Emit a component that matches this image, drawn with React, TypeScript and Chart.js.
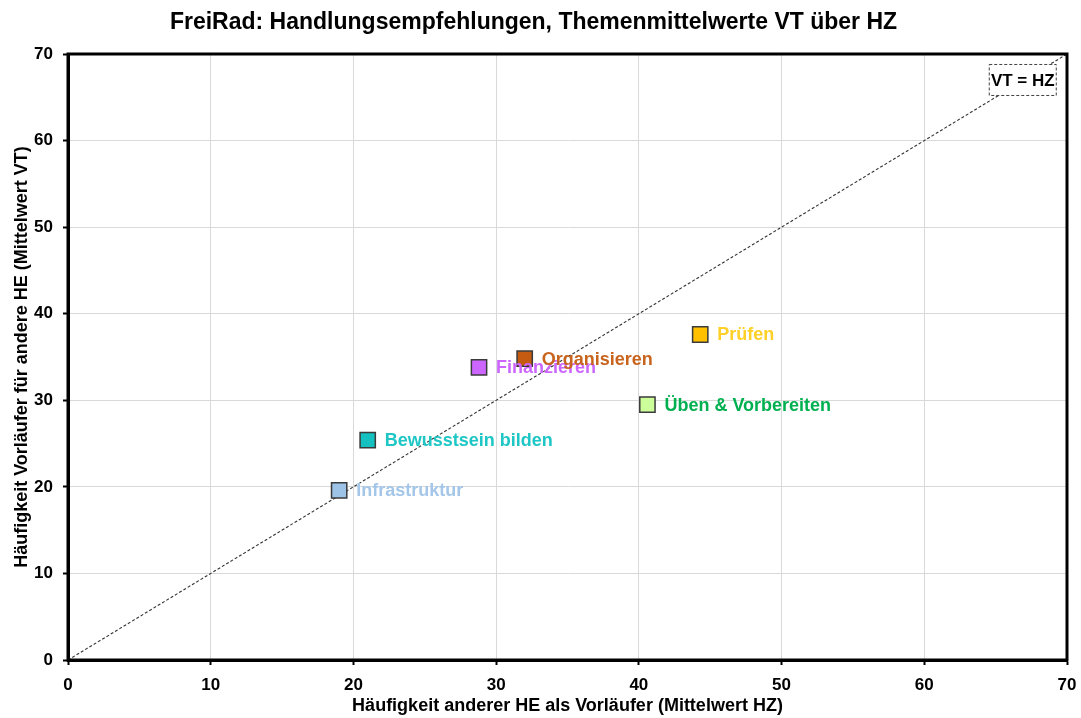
import React, { useEffect, useRef } from "react";
import { Chart, registerables } from "chart.js";

Chart.register(...registerables);

const topics = ["Infrastruktur", "Bewusstsein bilden", "Finanzieren", "Organisieren", "Prüfen", "Üben & Vorbereiten"];
const hzValues = [19.0, 21.0, 28.8, 32.0, 44.3, 40.6];
const vtValues = [19.6, 25.4, 33.8, 34.8, 37.6, 29.5];
const fillColors = ["#9dc3e6", "#14c0c0", "#cc66ff", "#c55a11", "#ffc000", "#ccff99"];
const labelColors = ["#a4c6e8", "#1ec6c6", "#cc66ff", "#c8641e", "#ffd027", "#00b050"];
const axisTicks = [0, 10, 20, 30, 40, 50, 60, 70];
const diagonal = [0, 70];

const titleText = "FreiRad: Handlungsempfehlungen, Themenmittelwerte VT über HZ";
const xTitle = "Häufigkeit anderer HE als Vorläufer (Mittelwert HZ)";
const yTitle = "Häufigkeit Vorläufer für andere HE (Mittelwert VT)";
const diagLabel = "VT = HZ";
const diagLabelPos = { x: 66.9, y: 67.0 };

const FONT = "'Liberation Sans', Arial, sans-serif";

const overlayPlugin = {
  id: "overlay",
  afterDatasetsDraw(chart: any) {
    const ctx = chart.ctx;
    const xs = chart.scales.x;
    const ys = chart.scales.y;
    ctx.save();
    ctx.font = `bold 18px ${FONT}`;
    ctx.textBaseline = "middle";
    ctx.textAlign = "left";
    topics.forEach((t, i) => {
      const px = xs.getPixelForValue(hzValues[i]);
      const py = ys.getPixelForValue(vtValues[i]);
      ctx.fillStyle = labelColors[i];
      ctx.fillText(t, px + 17, py + 1);
    });
    const cx = xs.getPixelForValue(diagLabelPos.x);
    const cy = ys.getPixelForValue(diagLabelPos.y);
    ctx.font = `bold 17px ${FONT}`;
    const w = 67, h = 31;
    ctx.fillStyle = "#ffffff";
    ctx.fillRect(cx - w / 2, cy - h / 2, w, h);
    ctx.setLineDash([3, 2]);
    ctx.strokeStyle = "#404040";
    ctx.lineWidth = 1;
    ctx.strokeRect(cx - w / 2, cy - h / 2, w, h);
    ctx.setLineDash([]);
    ctx.fillStyle = "#000000";
    ctx.textAlign = "center";
    ctx.fillText(diagLabel, cx, cy + 1);
    const a = chart.chartArea;
    ctx.strokeStyle = "#000000";
    ctx.lineWidth = 3;
    ctx.strokeRect(a.left, a.top, a.right - a.left, a.bottom - a.top);
    ctx.restore();
  },
};

export default function App() {
  const ref = useRef<HTMLCanvasElement>(null);
  useEffect(() => {
    document.body.style.margin = "0";
    const chart = new Chart(ref.current as HTMLCanvasElement, {
      type: "scatter",
      data: {
        datasets: [
          {
            type: "line",
            data: diagonal.map((v) => ({ x: v, y: v })),
            borderColor: "#333333",
            borderWidth: 1.1,
            borderDash: [3, 2],
            pointRadius: 0,
            order: 2,
          } as any,
          {
            data: hzValues.map((x, i) => ({ x, y: vtValues[i] })),
            pointStyle: "rect",
            pointRadius: 10.8,
            pointBackgroundColor: fillColors,
            pointBorderColor: "#3a3a3a",
            pointBorderWidth: 1.5,
            order: 1,
          },
        ],
      },
      options: {
        animation: false,
        responsive: false,
        layout: { padding: { left: 0, right: 14, top: 0, bottom: 0 } },
        plugins: {
          legend: { display: false },
          tooltip: { enabled: false },
          title: {
            display: true,
            text: titleText,
            color: "#000",
            font: { family: FONT, size: 23, weight: "bold" },
            padding: { top: 9, bottom: 17.4 },
          },
        },
        scales: {
          x: {
            type: "linear",
            min: 0,
            max: 70,
            afterBuildTicks: (s: any) => { s.ticks = axisTicks.map((v) => ({ value: v })); },
            afterFit: (s: any) => { s.height = 58; s.paddingRight = 0; },
            ticks: { color: "#000", font: { family: FONT, size: 17, weight: "bold" }, padding: 10, maxRotation: 0 },
            grid: { color: "#d9d9d9", lineWidth: 1, tickLength: 5, tickColor: "#000", tickWidth: 2 },
            border: { color: "#000", width: 3 },
            title: {
              display: true,
              text: xTitle,
              color: "#000",
              font: { family: FONT, size: 18, weight: "bold" },
              padding: { top: 0, bottom: 1 },
            },
          },
          y: {
            type: "linear",
            min: 0,
            max: 70,
            afterBuildTicks: (s: any) => { s.ticks = axisTicks.map((v) => ({ value: v })); },
            afterFit: (s: any) => { s.width = 68; },
            ticks: { color: "#000", font: { family: FONT, size: 17, weight: "bold" }, padding: 10 },
            grid: { color: "#d9d9d9", lineWidth: 1, tickLength: 5, tickColor: "#000", tickWidth: 2 },
            border: { color: "#000", width: 3 },
            title: {
              display: true,
              text: yTitle,
              color: "#000",
              font: { family: FONT, size: 18, weight: "bold" },
              padding: { top: 11, bottom: 4 },
            },
          },
        },
      },
      plugins: [overlayPlugin],
    });
    return () => chart.destroy();
  }, []);
  return (
    <div style={{ width: 1081, height: 718 }}>
      <canvas ref={ref} width={1081} height={718} style={{ display: "block" }} />
    </div>
  );
}
